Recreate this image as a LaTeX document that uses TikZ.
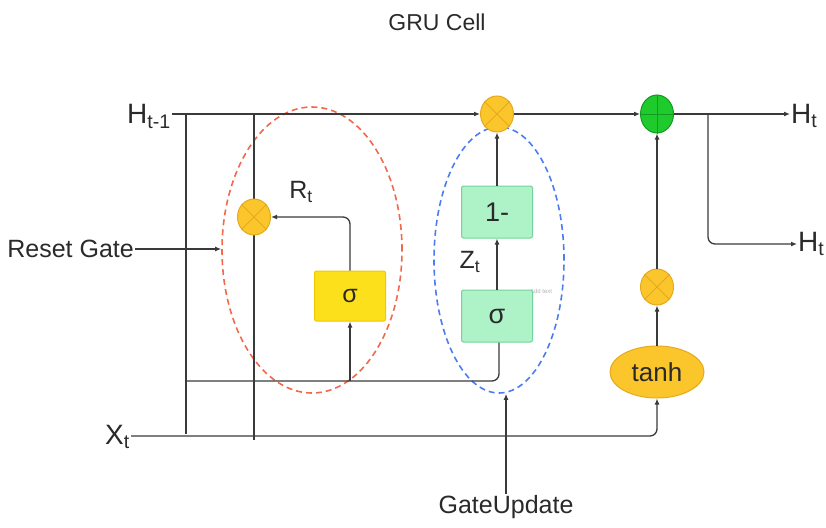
\documentclass[tikz,border=0pt]{standalone}
\usepackage{fontspec}
\setmainfont{Liberation Sans}
\usetikzlibrary{arrows.meta,shapes.geometric}
\definecolor{ink}{HTML}{2A2A2A}
\definecolor{linec}{HTML}{3A3A3A}
\definecolor{orfill}{HTML}{FBC52C}
\definecolor{ordraw}{HTML}{E6A91C}
\definecolor{grfill}{HTML}{1FCB2C}
\definecolor{grdraw}{HTML}{139A22}
\definecolor{yefill}{HTML}{FDE01C}
\definecolor{yedraw}{HTML}{EFC800}
\definecolor{gbfill}{HTML}{AEF2C8}
\definecolor{gbdraw}{HTML}{74D39C}
\definecolor{reddash}{HTML}{F2684B}
\definecolor{bluedash}{HTML}{4D7CF2}
\tikzset{
  conn/.style={draw=linec, line width=1.3pt},
  arr/.style={conn, -{Latex[length=6pt,width=5pt]}},
  dashell/.style={ellipse, dash pattern=on 6pt off 4pt, line width=1.6pt},
  mul/.style={ellipse, draw=ordraw, fill=orfill, line width=1pt, minimum width=33pt, minimum height=36pt, inner sep=0pt},
  addn/.style={ellipse, draw=grdraw, fill=grfill, line width=1pt, minimum width=33pt, minimum height=38pt, inner sep=0pt},
  sigbox/.style={rectangle, rounded corners=2pt, draw=yedraw, fill=yefill, line width=1pt, minimum width=71pt, minimum height=50pt, font=\fontsize{25}{28}\selectfont, text=ink},
  gbox/.style={rectangle, rounded corners=2pt, draw=gbdraw, fill=gbfill, line width=1pt, minimum width=71pt, minimum height=52pt, font=\fontsize{27}{30}\selectfont, text=ink},
  lbl/.style={font=\fontsize{25}{28}\selectfont, text=ink, inner sep=1pt},
  biglbl/.style={font=\fontsize{28}{30}\selectfont, text=ink, inner sep=1pt},
}
\begin{document}
\begin{tikzpicture}[x=1pt,y=-1pt]
\useasboundingbox (0,0) rectangle (826,527);
% title
\node[font=\fontsize{23}{26}\selectfont, text=ink] (title) at (437,22) {GRU Cell};
% dashed ellipses
\node[dashell, draw=reddash, minimum width=180pt, minimum height=286pt] (re) at (312,250) {};
\node[dashell, draw=bluedash, minimum width=130pt, minimum height=266pt] (be) at (499,260) {};
% labels
\node[biglbl, anchor=east] (hin) at (172,116) {H\textsubscript{t-1}};
\node[lbl, anchor=east] (rg) at (135,249) {Reset Gate};
\node[biglbl, anchor=east] (xt) at (131,437) {X\textsubscript{t}};
\node[lbl, anchor=north] (gu) at (506,494) {GateUpdate};
\node[biglbl, anchor=west] (ht1) at (790,116) {H\textsubscript{t}};
\node[biglbl, anchor=west] (ht2) at (797,244) {H\textsubscript{t}};
\node[lbl] (rt) at (301,192) {R\textsubscript{t}};
\node[lbl] (zt) at (470,262) {Z\textsubscript{t}};
\node[font=\fontsize{6}{7}\selectfont, text=black!30] (addt) at (541,291) {Add text};
% junction coordinates
\coordinate (j1) at (186,114);
\coordinate (j2) at (254,114);
\coordinate (j3) at (186,381);
\coordinate (j4) at (350,381);
\coordinate (br) at (708,114);
% vertical lines and feed lines (drawn under nodes)
\draw[conn] (j1) -- (186,434);
\draw[conn] (j2) -- (254,440);
\draw[conn, rounded corners=7pt] (j3) -| (499,342);
\draw[arr] (rg.east) -- (rg.east -| re.west);
\draw[arr] (gu.north) -- (gu.north |- be.south);
% operators
\node[mul] (m1) at (254,217) {};
\node[mul] (m2) at (497,114) {};
\node[mul] (m3) at (657,287) {};
\node[addn] (a1) at (657,114) {};
\foreach \n in {m1,m2,m3}{
  \draw[ordraw, line width=1pt] (\n.45) -- (\n.225) (\n.135) -- (\n.315);
}
\draw[grdraw, line width=1pt] (a1.north) -- (a1.south) (a1.west) -- (a1.east);
% boxes
\node[sigbox] (s1) at (350,296) {σ};
\node[gbox] (one) at (497,212) {1-};
\node[gbox] (s2) at (497,316) {σ};
\node[ellipse, draw=ordraw, fill=orfill, line width=1pt, minimum width=94pt, minimum height=52pt, font=\fontsize{26}{28}\selectfont, text=ink] (th) at (657,372) {tanh};
% connectors
\draw[arr] (hin.east |- j1) -- (m2.west);
\draw[arr] (m2.east) -- (a1.west);
\draw[arr] (a1.east) -- (ht1.west |- a1.east);
\draw[arr, rounded corners=7pt] (br) |- (ht2.west);
\draw[arr, rounded corners=7pt] (s1.north) |- (m1.east);
\draw[arr] (j4) -- (s1.south);
\draw[arr] (s2.north) -- (one.south);
\draw[arr] (one.north) -- (m2.south);
\draw[arr, rounded corners=7pt] (xt.east |- 0,436) -| (th.south);
\draw[arr] (th.north) -- (m3.south);
\draw[arr] (m3.north) -- (a1.south);
\end{tikzpicture}
\end{document}
